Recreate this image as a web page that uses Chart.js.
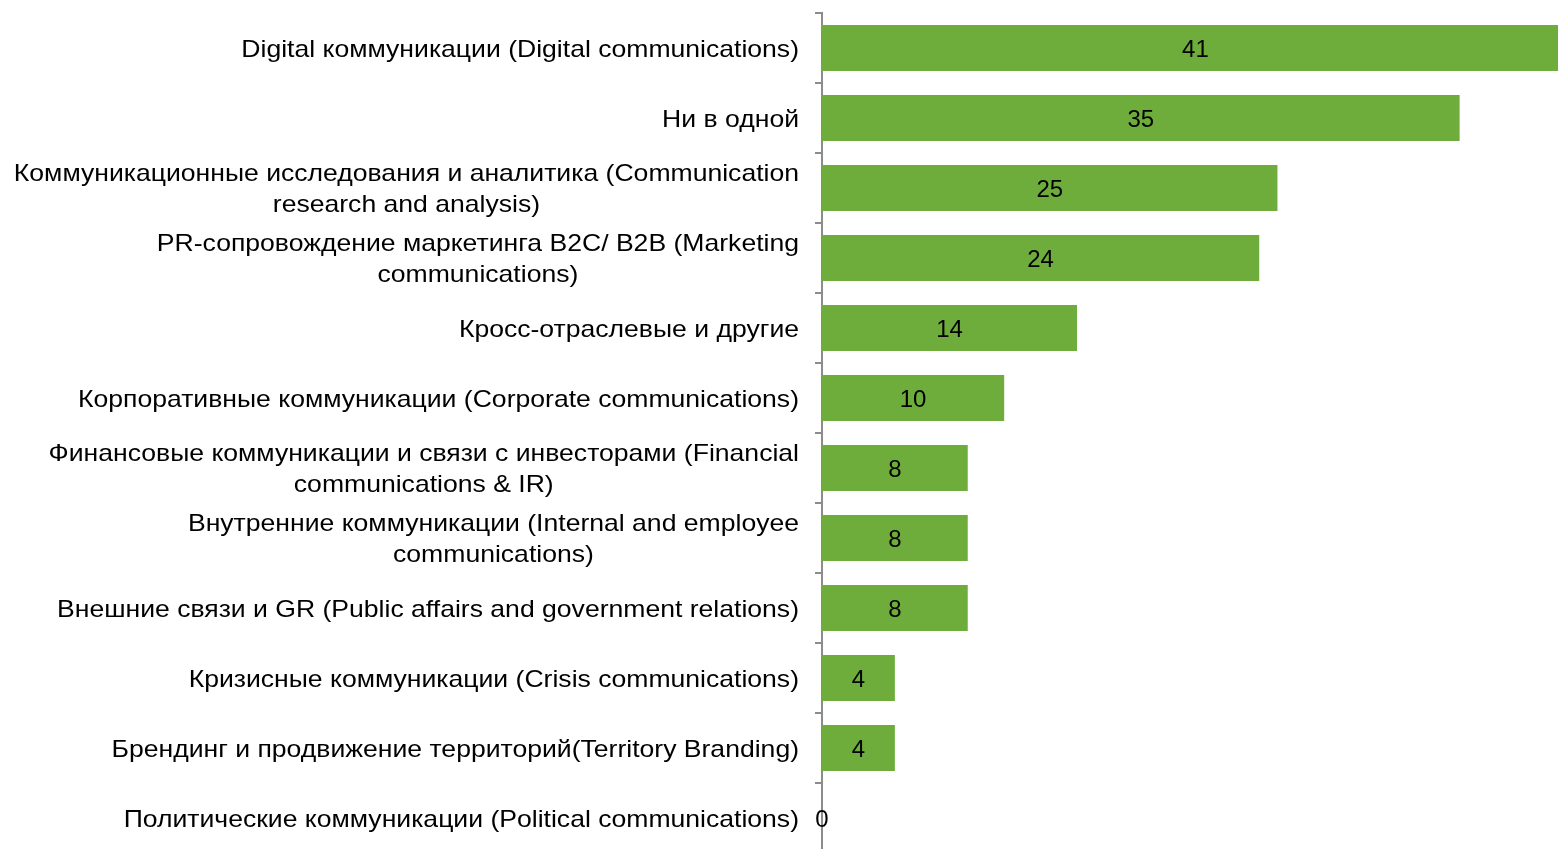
<!DOCTYPE html>
<html>
<head>
<meta charset="utf-8">
<script src="https://cdn.jsdelivr.net/npm/chart.js@4"></script>
<style>
  html, body { margin: 0; padding: 0; background: #fff; overflow: hidden; }
  #wrap { width: 1558px; height: 856px; }
</style>
</head>
<body>
<div id="wrap"><canvas id="chartCanvas" width="1558" height="856"></canvas></div>
<script>
// Practice areas, one label per row (multi-line labels are split by hand)
const categories = [
    ['Digital коммуникации (Digital communications)'],
    ['Ни в одной'],
    ['Коммуникационные исследования и аналитика (Communication', 'research and analysis)'],
    ['PR-сопровождение маркетинга B2C/ B2B (Marketing', 'communications)'],
    ['Кросс-отраслевые и другие'],
    ['Корпоративные коммуникации (Corporate communications)'],
    ['Финансовые коммуникации и связи с инвесторами (Financial', 'communications & IR)'],
    ['Внутренние коммуникации (Internal and employee', 'communications)'],
    ['Внешние связи и GR (Public affairs and government relations)'],
    ['Кризисные коммуникации (Crisis communications)'],
    ['Брендинг и продвижение территорий(Territory Branding)'],
    ['Политические коммуникации (Political communications)']
];
const values = [41, 35, 25, 24, 14, 10, 8, 8, 8, 4, 4, 0];

const barColor = '#6EAD3C';
const axisColor = '#8C8C8C';
const textFont = '24px "Liberation Sans", Arial, sans-serif';
const labelStretch = 1.107;
const lineHeight = 31;

// Category labels (lines centred within their block, block right-aligned)
// and value labels in the middle of each bar
const labelPlugin = {
    id: 'sideLabels',
    afterDraw(chart) {
        const ctx = chart.ctx;
        const yScale = chart.scales.y;
        const right = chart.chartArea.left - 23;
        ctx.save();
        ctx.font = textFont;
        ctx.fillStyle = '#000';
        ctx.textBaseline = 'middle';
        ctx.textAlign = 'center';
        categories.forEach((lines, i) => {
            const cy = yScale.getPixelForValue(i) + 2;
            const w = Math.max(...lines.map(l => ctx.measureText(l).width)) * labelStretch;
            const cx = right - w / 2;
            lines.forEach((line, j) => {
                ctx.save();
                ctx.translate(cx, cy + (j - (lines.length - 1) / 2) * lineHeight);
                ctx.scale(labelStretch, 1);
                ctx.fillText(line, 0, 0);
                ctx.restore();
            });
        });
        chart.getDatasetMeta(0).data.forEach((bar, i) => {
            ctx.fillText(String(values[i]), (bar.x + bar.base) / 2, bar.y + 2);
        });
        ctx.restore();
    }
};

const ctx = document.getElementById('chartCanvas').getContext('2d');
new Chart(ctx, {
    type: 'bar',
    data: {
        labels: categories,
        datasets: [{
            data: values,
            backgroundColor: barColor,
            borderWidth: 0,
            barPercentage: 0.66,
            categoryPercentage: 1
        }]
    },
    options: {
        indexAxis: 'y',
        responsive: false,
        animation: false,
        layout: { padding: { top: 13, bottom: 3, right: 0, left: 0 } },
        plugins: {
            legend: { display: false },
            tooltip: { enabled: false }
        },
        scales: {
            x: {
                display: false,
                min: 0,
                max: 40.4
            },
            y: {
                offset: true,
                afterFit(scale) { scale.width = 822; },
                ticks: { display: false },
                grid: {
                    offset: true,
                    drawOnChartArea: false,
                    drawTicks: true,
                    tickLength: 7,
                    color: axisColor,
                    lineWidth: 2
                },
                border: { color: axisColor, width: 2 }
            }
        }
    },
    plugins: [labelPlugin]
});
</script>
</body>
</html>
